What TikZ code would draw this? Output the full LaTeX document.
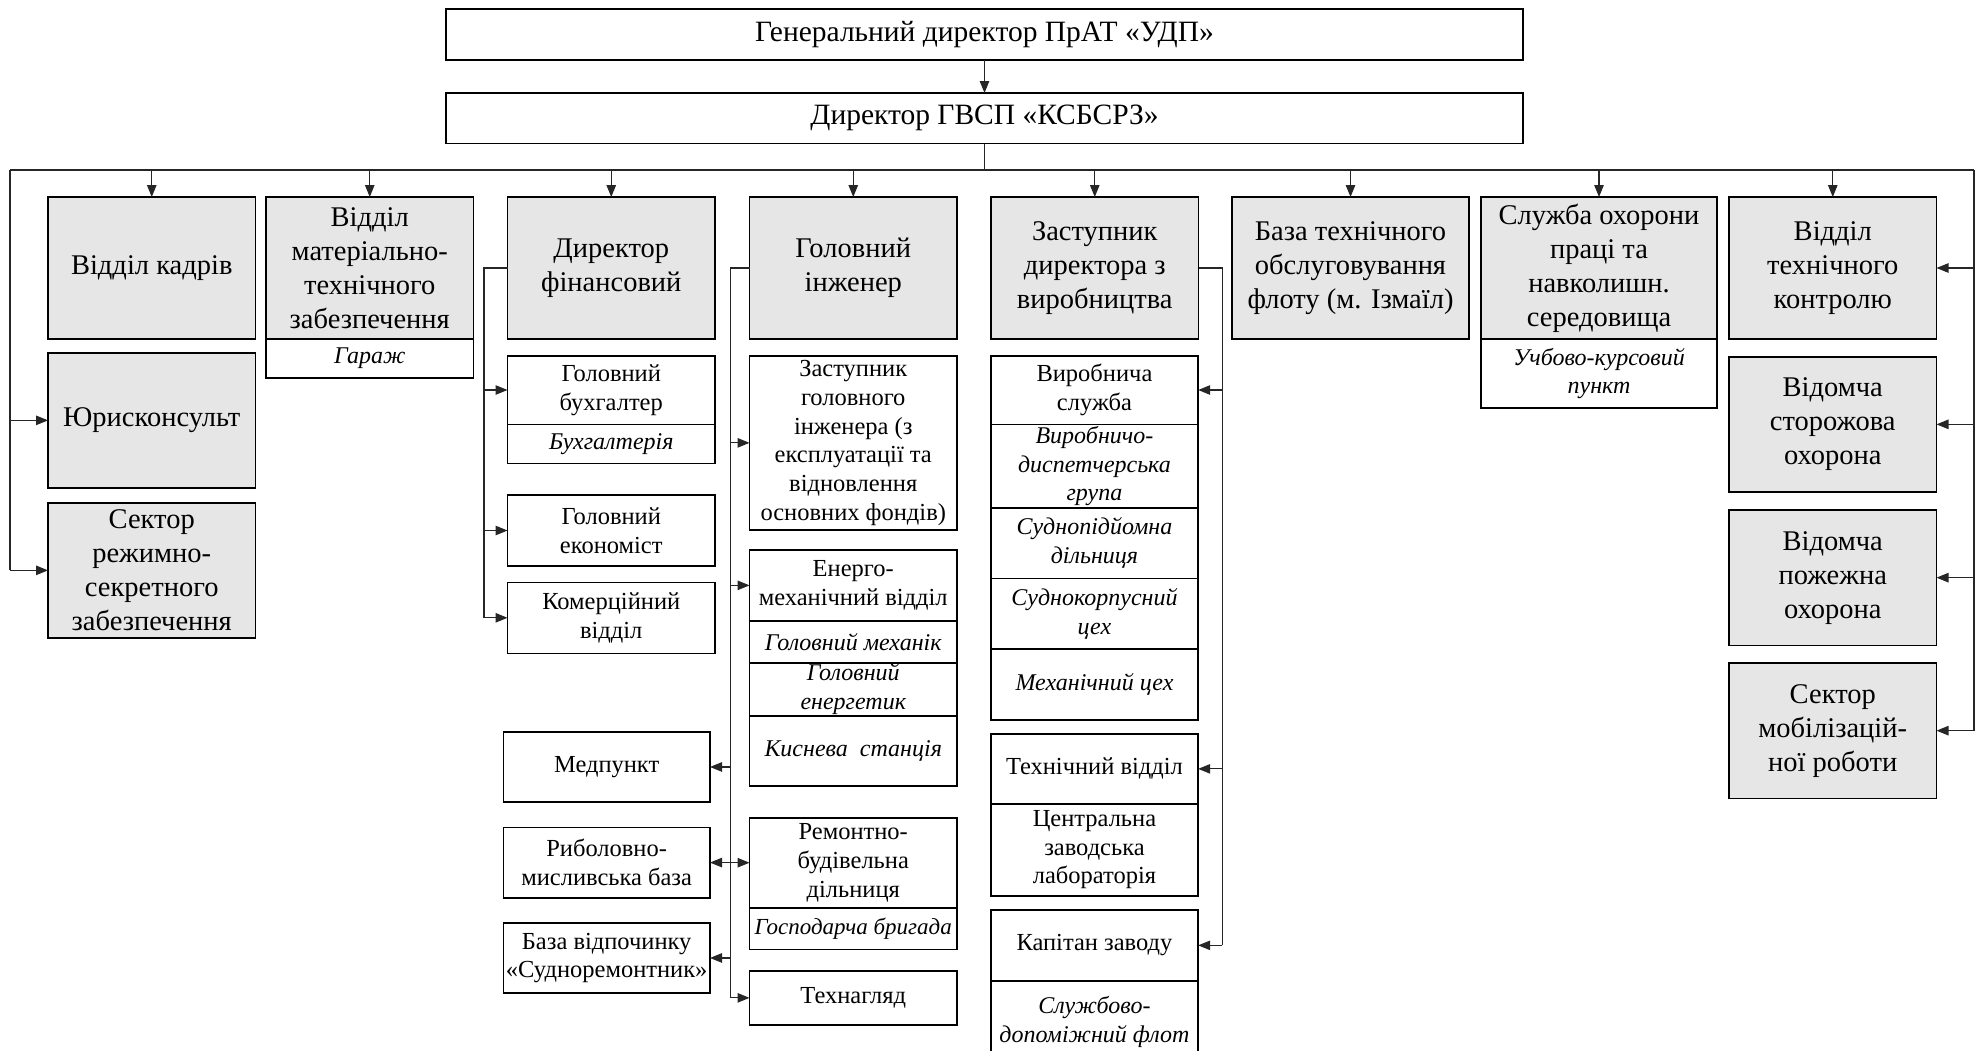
\documentclass[tikz,border=0pt]{standalone}
\usepackage{fontspec}
\setmainfont{Liberation Serif}
\usetikzlibrary{positioning,arrows.meta}
\definecolor{boxgray}{RGB}{230,230,230}
\tikzstyle{topbox}=[draw,line width=1.6pt,fill=white,inner sep=0pt,outer sep=0pt,anchor=north west,align=center,font=\fontsize{29.5}{34}\selectfont]
\tikzstyle{gbox}=[topbox,fill=boxgray,minimum width=207.5pt,minimum height=142pt,font=\fontsize{28.5}{34}\selectfont]
\tikzstyle{wbox}=[topbox,minimum width=207.5pt,minimum height=70.5pt,font=\fontsize{24.5}{28.7}\selectfont]
\tikzstyle{ibox}=[topbox,minimum width=207.5pt,font=\fontsize{24}{28.7}\selectfont\itshape]
\tikzstyle{link}=[line width=1.1pt,draw=black!85]
\tikzstyle{arr}=[link,-{Triangle[length=12pt,width=9.5pt]}]

\begin{document}
\begin{tikzpicture}[x=1pt,y=-1pt]
\useasboundingbox (0,0) rectangle (1977,1050);

\node[topbox,minimum width=1077pt,minimum height=51pt] at (446,9) (gen) {Генеральний директор ПрАТ «УДП»};
\node[topbox,minimum width=1077pt,minimum height=50.5pt] at (446,93) (dir) {Директор ГВСП «КСБСРЗ»};

\node[gbox] at (48,197) (kadry) {Відділ кадрів};
\node[gbox] at (266,197) (mto) {Відділ\\матеріально-\\технічного\\забезпечення};
\node[ibox,minimum height=38.7pt,below=0pt of mto] (garazh) {Гараж};
\node[gbox] at (507.5,197) (fin) {Директор\\фінансовий};
\node[gbox] at (749.5,197) (inzh) {Головний\\інженер};
\node[gbox] at (991,197) (zastvyr) {Заступник\\директора з\\виробництва};
\node[gbox,minimum width=237pt] at (1232,197) (baza) {База технічного\\обслуговування\\флоту (м. Ізмаїл)};
\node[gbox,minimum width=236pt] at (1481,197) (okhor) {Служба охорони\\праці та\\навколишн.\\середовища};
\node[ibox,minimum width=236pt,minimum height=69pt,below=0pt of okhor] (kurs) {Учбово-курсовий\\пункт};
\node[gbox] at (1729,197) (vtk) {Відділ\\технічного\\контролю};

\node[gbox,minimum height=135.3pt] at (48,352.7) (yurist) {Юрисконсульт};
\node[gbox,minimum height=135.3pt] at (48,502.7) (sektor) {Сектор\\режимно-\\секретного\\забезпечення};
\node[gbox,minimum height=135.3pt] at (1729,356.7) (storozh) {Відомча\\сторожова\\охорона};
\node[gbox,minimum height=135.3pt] at (1729,510) (pozh) {Відомча\\пожежна\\охорона};
\node[gbox,minimum height=135.3pt] at (1729,663) (mobil) {Сектор\\мобілізацій-\\ної роботи};

\node[wbox,minimum height=68.6pt] at (507.5,355.7) (buh) {Головний\\бухгалтер};
\node[ibox,minimum height=39pt,below=0pt of buh] (buhg) {Бухгалтерія};
\node[wbox,minimum height=71pt] at (507.5,495) (ekon) {Головний\\економіст};
\node[wbox,minimum height=71pt] at (507.5,582.3) (komerc) {Комерційний\\відділ};

\node[wbox,minimum height=174.3pt] at (749.5,355.7) (zastinzh) {Заступник\\головного\\інженера (з\\експлуатації та\\відновлення\\основних фондів)};
\node[wbox,minimum height=70.7pt] at (749.5,550) (energo) {Енерго-\\механічний відділ};
\node[ibox,minimum height=42pt,below=0pt of energo] (mekh) {Головний механік};
\node[ibox,minimum height=53.3pt,below=0pt of mekh] (energ) {Головний\\енергетик};
\node[ibox,minimum height=70pt,below=0pt of energ] (kysn) {Киснева \ станція};
\node[wbox,minimum width=206.7pt] at (503.3,731.7) (medp) {Медпункт};
\node[wbox,minimum width=206.7pt] at (503.3,827.3) (rybol) {Риболовно-\\мисливська база};
\node[wbox,minimum width=206.7pt] at (503.3,922.7) (vidp) {База відпочинку\\«Судноремонтник»};
\node[wbox,minimum height=90pt] at (749.5,817.7) (remont) {Ремонтно-\\будівельна\\дільниця};
\node[ibox,minimum height=41.6pt,below=0pt of remont,font=\fontsize{23}{28.7}\selectfont\itshape] (gosp) {Господарча бригада};
\node[wbox,minimum height=54.3pt] at (749.5,970.7) (tekhn) {Технагляд};

\node[wbox,minimum height=68.6pt] at (990.7,355.7) (vyrob) {Виробнича\\служба};
\node[ibox,minimum height=83.4pt,below=0pt of vyrob] (dysp) {Виробничо-\\диспетчерська\\група};
\node[ibox,minimum height=70.6pt,below=0pt of dysp] (sudnopid) {Суднопідйомна\\дільниця};
\node[ibox,minimum height=70.7pt,below=0pt of sudnopid] (sudnokorp) {Суднокорпусний\\цех};
\node[ibox,minimum height=71pt,below=0pt of sudnokorp] (mekhcekh) {Механічний цех};
\node[wbox,minimum height=70.3pt] at (990.7,733.7) (tekhvid) {Технічний відділ};
\node[wbox,minimum height=91.7pt,below=0pt of tekhvid] (lab) {Центральна\\заводська\\лабораторія};
\node[wbox,minimum height=70.7pt] at (990.7,910) (kapit) {Капітан заводу};
\node[ibox,minimum height=82pt,below=0pt of kapit] (sluzhb) {Службово-\\допоміжний флот};

\coordinate (busL) at (10,170);
\coordinate (busR) at (1974,170);
\coordinate (finbus) at (484,268);
\coordinate (inzhbus) at (730.7,268);
\coordinate (vyrbus) at (1222.3,268);

\draw[arr] (gen) -- (dir);
\draw[link,line width=1.6pt] (dir.south) -- (dir.south |- busL);
\draw[link] (busL) -- (busR);
\draw[arr] (kadry.north |- busL) -- (kadry.north);
\draw[arr] (mto.north |- busL) -- (mto.north);
\draw[arr] (fin.north |- busL) -- (fin.north);
\draw[arr] (inzh.north |- busL) -- (inzh.north);
\draw[arr] (zastvyr.north |- busL) -- (zastvyr.north);
\draw[arr] (baza.north |- busL) -- (baza.north);
\draw[arr] (okhor.north |- busL) -- (okhor.north);
\draw[arr] (vtk.north |- busL) -- (vtk.north);

\draw[link] (busL) -- (busL |- sektor.west);
\draw[arr] (busL |- yurist.west) -- (yurist.west);
\draw[arr] (busL |- sektor.west) -- (sektor.west);

\draw[link] (busR) -- (busR |- mobil.east);
\draw[arr] (busR |- vtk.east) -- (vtk.east);
\draw[arr] (busR |- storozh.east) -- (storozh.east);
\draw[arr] (busR |- pozh.east) -- (pozh.east);
\draw[arr] (busR |- mobil.east) -- (mobil.east);

\draw[link] (fin.west) -- (finbus) -- (finbus |- komerc.west);
\draw[arr] (finbus |- buh.west) -- (buh.west);
\draw[arr] (finbus |- ekon.west) -- (ekon.west);
\draw[arr] (finbus |- komerc.west) -- (komerc.west);

\draw[link] (inzh.west) -- (inzhbus) -- (inzhbus |- tekhn.west);
\draw[arr] (inzhbus |- zastinzh.west) -- (zastinzh.west);
\draw[arr] (inzhbus |- energo.west) -- (energo.west);
\draw[arr] (inzhbus |- remont.west) -- (remont.west);
\draw[arr] (inzhbus |- tekhn.west) -- (tekhn.west);
\draw[arr] (inzhbus |- medp.east) -- (medp.east);
\draw[arr] (inzhbus |- rybol.east) -- (rybol.east);
\draw[arr] (inzhbus |- vidp.east) -- (vidp.east);

\draw[link] (zastvyr.east) -- (vyrbus) -- (vyrbus |- kapit.east);
\draw[arr] (vyrbus |- vyrob.east) -- (vyrob.east);
\draw[arr] (vyrbus |- tekhvid.east) -- (tekhvid.east);
\draw[arr] (vyrbus |- kapit.east) -- (kapit.east);
\end{tikzpicture}
\end{document}
